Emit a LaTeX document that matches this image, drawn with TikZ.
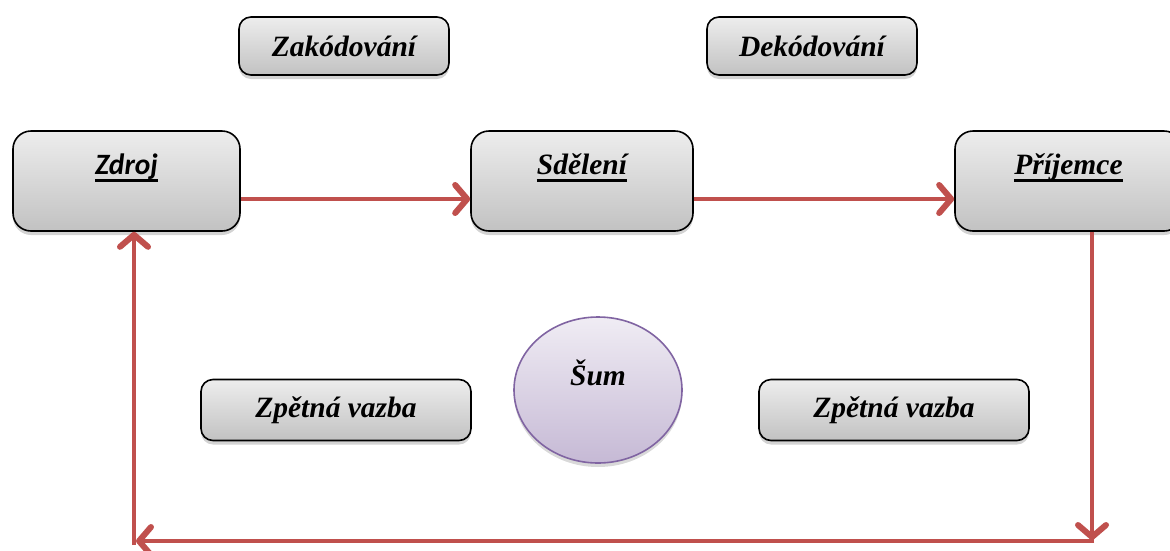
\documentclass[tikz,border=0pt]{standalone}
\usepackage{fontspec}
\setmainfont{Liberation Serif}
\newfontfamily\calibri{Carlito}
\usetikzlibrary{arrows.meta, shadows, shapes.geometric}

\definecolor{linkred}{HTML}{C0504D}
\definecolor{noiseline}{HTML}{8064A2}
\newcommand{\ulbar}[1]{\setbox0=\hbox{#1}\rlap{\copy0}\rule[-8pt]{\wd0}{3pt}}

\begin{document}
\begin{tikzpicture}[x=1pt, y=-1pt, >={Straight Barb[length=12pt, width=28pt, line width=6pt, round]},
  box/.style={draw=black, line width=1.6pt, rounded corners=12pt, top color=black!7, bottom color=black!24,
    drop shadow={opacity=0.35, shadow xshift=0pt, shadow yshift=-4pt}, inner sep=0pt,
    font=\fontsize{29.5}{33}\selectfont\bfseries\itshape},
  mainbox/.style={box, rounded corners=18pt, minimum width=227pt, minimum height=100pt, text height=20pt, text depth=34pt},
  link/.style={draw=linkred, line width=4.5pt, ->}]

\useasboundingbox (0,0) rectangle (1170,550);

% top labels
\node[box, minimum width=210pt, minimum height=58pt] (zak) at (344,46) {Zakódování};
\node[box, minimum width=210pt, minimum height=58pt] (dek) at (812,46) {Dekódování};

% main row
\node[mainbox] (zdroj) at (126.5,181) {\calibri\ulbar{Zdroj}};
\node[mainbox, minimum width=222pt] (sdel) at (582,181) {\ulbar{Sdělení}};
\node[mainbox] (prij) at (1068.5,181) {\ulbar{Příjemce}};

\draw[link] ([yshift=-18pt]zdroj.east) -- ([yshift=-18pt]sdel.west);
\draw[link] ([yshift=-18pt]sdel.east) -- ([yshift=-18pt]prij.west);

% feedback
\node[box, minimum width=270pt, minimum height=61pt] (zpet1) at (336,410) {Zpětná vazba};
\node[box, minimum width=270pt, minimum height=61pt] (zpet2) at (894,410) {Zpětná vazba};

\node[ellipse, draw=noiseline, line width=1.6pt, top color=noiseline!12, bottom color=noiseline!45,
  drop shadow={opacity=0.3, shadow xshift=0pt, shadow yshift=-4pt},
  minimum width=168pt, minimum height=146pt, inner sep=0pt, text height=20pt, text depth=30pt,
  font=\fontsize{29.5}{33}\selectfont\bfseries\itshape] (sum) at (598,390) {Šum};

\coordinate (rb) at (1092,541);
\coordinate (lb) at (134,541);
\draw[link] (prij.south -| rb) -- ([yshift=1pt]rb);
\draw[link] ([xshift=2pt]rb) -- ([xshift=2pt]lb);
\draw[link] ([yshift=-4pt]lb) -- (zdroj.south -| lb);

\end{tikzpicture}
\end{document}
